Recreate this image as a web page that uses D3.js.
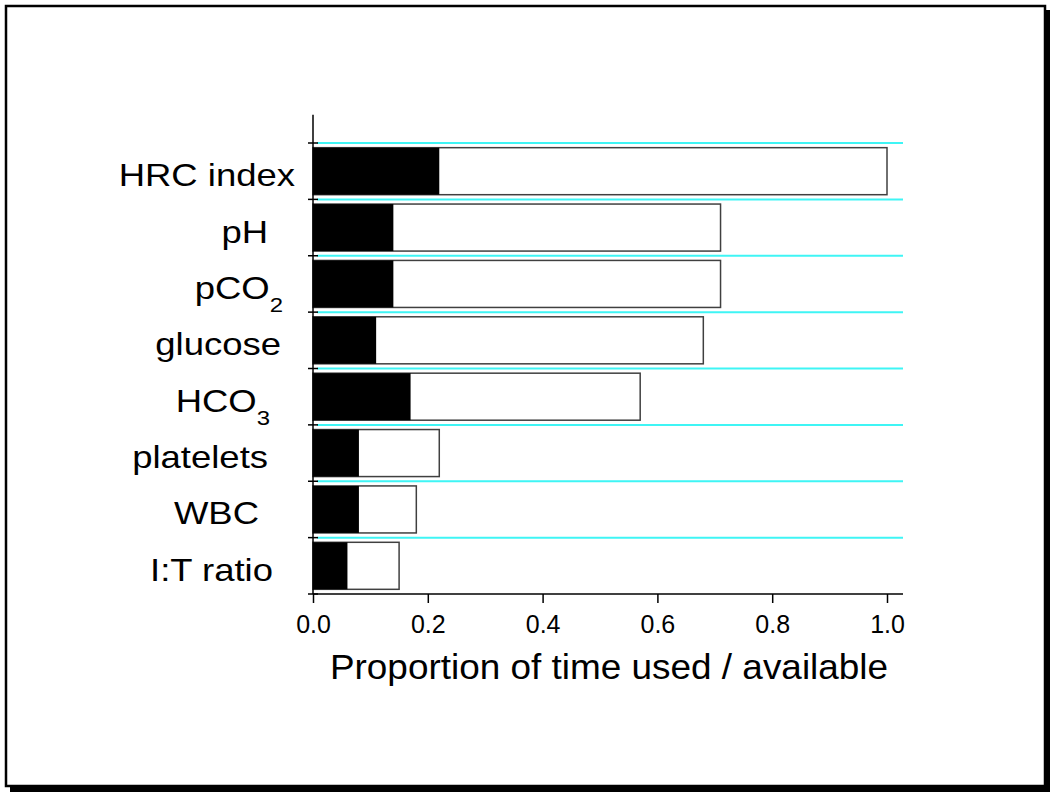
<!DOCTYPE html>
<html>
<head>
<meta charset="utf-8">
<script src="https://cdn.jsdelivr.net/npm/d3@7"></script>
<style>
  body { margin: 0; background: #fff; }
  svg text { font-family: "Liberation Sans", Arial, sans-serif; fill: #000; }
</style>
</head>
<body>
<div id="chart"></div>
<script>
// data
var categories = ["HRC index", "pH", "pCO2", "glucose", "HCO3", "platelets", "WBC", "I:T ratio"];
var usedValues = [0.22, 0.14, 0.14, 0.11, 0.17, 0.08, 0.08, 0.06];
var availValues = [1.00, 0.71, 0.71, 0.68, 0.57, 0.22, 0.18, 0.15];
var xTicks = [0, 0.2, 0.4, 0.6, 0.8, 1.0];

// right edge of each category label (the labels are not aligned in the original)
var labelRight = [295, 268, 283, 281, 270, 268, 259, 273];

var width = 1050, height = 792;
var x0 = 313, x1 = 887, axisEnd = 903;
var yTop = 143, yBottom = 594;

var svg = d3.select("#chart").append("svg")
  .attr("width", width)
  .attr("height", height);

// frame with a drop shadow
svg.append("rect")
  .attr("x", 10).attr("y", 10)
  .attr("width", 1040).attr("height", 782)
  .attr("fill", "#000");
svg.append("rect")
  .attr("x", 6).attr("y", 6)
  .attr("width", 1039).attr("height", 780)
  .attr("fill", "#fff")
  .attr("stroke", "#000")
  .attr("stroke-width", 2.5);

var x = d3.scaleLinear().domain([0, 1]).range([x0, x1]);
var y = d3.scaleBand()
  .domain(categories)
  .range([yTop, yBottom])
  .paddingInner(0.166)
  .paddingOuter(0.083);

var step = y.step();
var boundaries = categories.map(function(c) { return y(c) - step * y.paddingInner() / 2; });

// cyan separators
svg.selectAll("line.sep")
  .data(boundaries)
  .enter().append("line")
  .attr("class", "sep")
  .attr("x1", x0 + 4).attr("x2", axisEnd)
  .attr("y1", function(d) { return d; })
  .attr("y2", function(d) { return d; })
  .attr("stroke", "#3ff5f5")
  .attr("stroke-width", 2);

var rows = categories.map(function(c, i) {
  return { name: c, used: usedValues[i], avail: availValues[i], i: i };
});

// available (white) bars
svg.selectAll("rect.avail")
  .data(rows)
  .enter().append("rect")
  .attr("class", "avail")
  .attr("x", x(0))
  .attr("y", function(d) { return y(d.name); })
  .attr("width", function(d) { return x(d.avail) - x(0); })
  .attr("height", y.bandwidth())
  .attr("fill", "#fff")
  .attr("stroke", "#404040")
  .attr("stroke-width", 1.5);

// used (black) bars
svg.selectAll("rect.used")
  .data(rows)
  .enter().append("rect")
  .attr("class", "used")
  .attr("x", x(0))
  .attr("y", function(d) { return y(d.name); })
  .attr("width", function(d) { return x(d.used) - x(0); })
  .attr("height", y.bandwidth())
  .attr("fill", "#000");

// x axis
var xAxis = d3.axisBottom(x)
  .tickValues(xTicks)
  .tickSize(9)
  .tickFormat(d3.format(".1f"));

var gx = svg.append("g")
  .attr("transform", "translate(0," + yBottom + ")")
  .call(xAxis);
gx.select(".domain").remove();
gx.append("line")
  .attr("x1", x0).attr("x2", axisEnd)
  .attr("y1", 0).attr("y2", 0)
  .attr("stroke", "#000").attr("stroke-width", 1.5);
gx.selectAll(".tick line").attr("stroke", "#000").attr("stroke-width", 1.5);
gx.selectAll(".tick text")
  .attr("y", 39).attr("dy", 0)
  .attr("font-size", 25)
  .attr("font-family", "Liberation Sans, Arial, sans-serif")
  .attr("fill", "#000");

// y axis
svg.append("line")
  .attr("x1", x0).attr("x2", x0)
  .attr("y1", yTop - step / 2).attr("y2", yBottom)
  .attr("stroke", "#000").attr("stroke-width", 1.5);
svg.selectAll("line.ytick")
  .data(boundaries.concat([yBottom]))
  .enter().append("line")
  .attr("class", "ytick")
  .attr("x1", x0 - 5).attr("x2", x0 + 5)
  .attr("y1", function(d) { return d; })
  .attr("y2", function(d) { return d; })
  .attr("stroke", "#000").attr("stroke-width", 1.5);

// category labels, with subscripts for CO2 / CO3
var labels = svg.selectAll("text.cat")
  .data(rows)
  .enter().append("text")
  .attr("class", "cat")
  .attr("text-anchor", "end")
  .attr("font-size", 32)
  .attr("transform", function(d) {
    return "translate(" + labelRight[d.i] + "," + (y(d.name) + y.bandwidth() / 2 + 15) + ") scale(1.14,1)";
  });

labels.each(function(d) {
  var t = d3.select(this);
  var m = d.name.match(/^(.*CO)(\d)$/);
  if (m) {
    t.append("tspan").text(m[1]);
    t.append("tspan").attr("font-size", 21).attr("dy", 13).text(m[2]);
  } else {
    t.text(d.name);
  }
});

// axis title
svg.append("text")
  .attr("text-anchor", "middle")
  .attr("font-size", 35)
  .attr("transform", "translate(609,679) scale(1.055,1)")
  .text("Proportion of time used / available");
</script>
</body>
</html>
